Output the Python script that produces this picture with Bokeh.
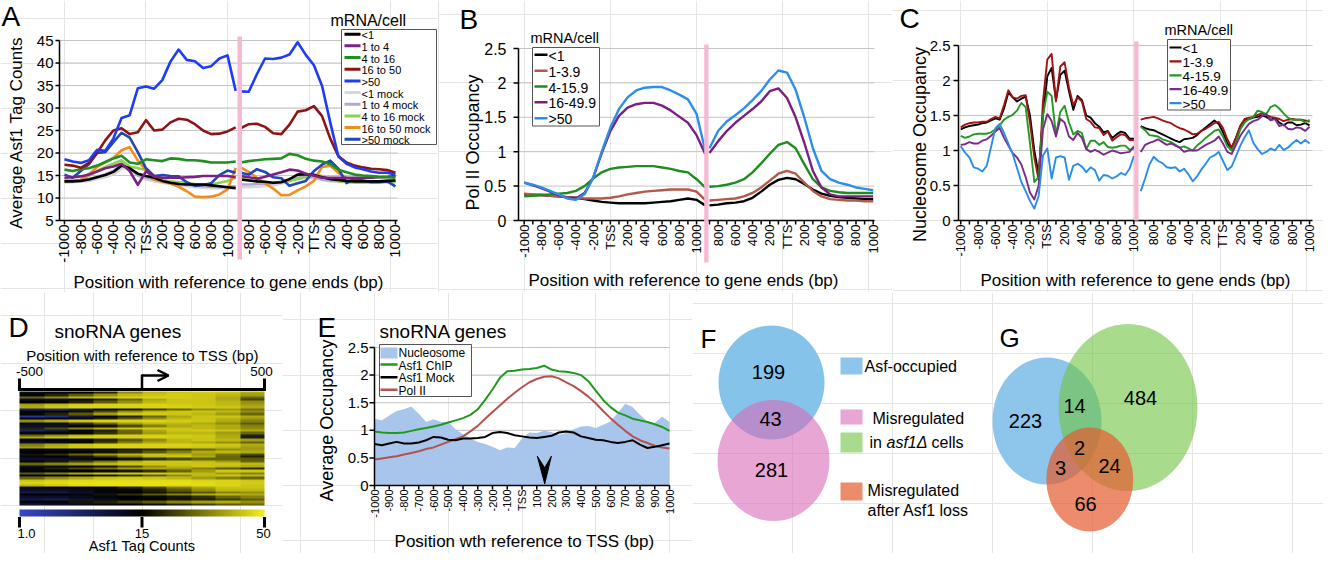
import math
import numpy as np
from bokeh.plotting import figure
from bokeh.layouts import row, column
from bokeh.models import Range1d, LinearColorMapper, Arrow, OpenHead
from bokeh.core.properties import value
from bokeh.embed import file_html
from bokeh.resources import INLINE

FONT = "Liberation Sans"
NAN = float("nan")

# ======================= DATA =======================
# ---- Panel A: Asf1 tag counts (100 bp steps) ----
POS_TSS = list(range(-1000, 1101, 100))   # relative to TSS
POS_TTS = list(range(-900, 1001, 100))    # relative to TTS
A_LT1_TSS = [13.7, 13.7, 13.8, 14.1, 14.6, 15.1, 15.8, 17.2, 16.6, 15.4, 14.9, 14.5, 13.8, 13.4, 13.1, 13.0, 13.0, 13.0, 12.8, 12.6, 12.4, 12.2]
A_LT1_TTS = [14.1, 13.9, 13.7, 13.6, 13.4, 13.5, 14.2, 15.2, 15.3, 15.1, 14.6, 14.2, 14.0, 13.8, 13.7, 13.7, 13.7, 13.7, 13.8, 13.9]
A_1TO4_TSS = [14.5, 14.6, 14.8, 15.2, 15.9, 16.6, 17.0, 17.6, 16.0, 12.9, 15.9, 14.8, 14.5, 14.5, 14.5, 14.6, 14.7, 14.9, 14.9, 14.9, 14.9, 14.6]
A_1TO4_TTS = [14.9, 14.6, 14.3, 14.7, 15.2, 15.7, 16.3, 16.1, 15.4, 15.0, 14.5, 14.5, 14.5, 14.5, 14.5, 14.5, 14.5, 14.6, 14.7, 14.9]
A_4TO16_TSS = [16.3, 16.0, 16.4, 16.6, 17.2, 18.0, 18.8, 19.4, 17.9, 17.6, 18.6, 18.4, 18.2, 18.8, 18.7, 18.4, 18.4, 18.2, 17.9, 17.9, 17.9, 18.1]
A_4TO16_TTS = [17.9, 18.2, 18.4, 18.6, 18.7, 18.8, 19.8, 19.5, 18.7, 18.3, 18.1, 17.5, 16.3, 15.7, 15.2, 15.0, 14.9, 14.7, 14.6, 14.5]
A_16TO50_TSS = [17.4, 17.2, 16.7, 17.8, 20.0, 22.8, 25.0, 25.5, 24.2, 24.6, 27.3, 25.0, 25.2, 26.8, 27.6, 27.4, 26.4, 25.0, 24.2, 24.3, 24.8, 25.7]
A_16TO50_TTS = [25.5, 26.4, 26.5, 25.8, 24.4, 24.2, 26.3, 29.2, 29.5, 30.4, 28.2, 23.2, 19.3, 17.9, 17.2, 16.8, 16.5, 16.4, 16.2, 15.6]
A_GT50_TSS = [18.6, 18.1, 17.8, 18.4, 20.7, 20.5, 23.2, 27.8, 28.4, 34.4, 34.8, 34.3, 36.2, 40.3, 43.0, 40.7, 40.4, 38.9, 39.3, 41.0, 41.7, 33.8]
A_GT50_TTS = [33.7, 33.6, 37.5, 41.0, 40.9, 41.2, 41.9, 44.6, 41.8, 39.5, 34.9, 26.8, 19.2, 17.6, 16.8, 16.4, 15.9, 15.6, 15.6, 15.2]
A_LT1M_TSS = [13.4, 13.5, 13.6, 13.8, 14.2, 14.6, 15.2, 16.5, 16.8, 15.0, 14.1, 13.7, 13.4, 13.1, 12.8, 12.6, 12.4, 12.3, 12.2, 12.2, 12.2, 12.2]
A_LT1M_TTS = [12.4, 12.4, 12.5, 12.6, 12.8, 13.2, 13.7, 14.1, 14.5, 14.4, 14.0, 13.7, 13.6, 13.5, 13.5, 13.4, 13.4, 13.4, 13.4, 13.4]
A_1TO4M_TSS = [13.7, 13.8, 14.0, 14.2, 14.7, 15.3, 16.0, 17.4, 16.6, 15.0, 14.5, 14.1, 13.7, 13.5, 13.2, 13.0, 12.8, 12.6, 12.5, 12.4, 12.5, 12.6]
A_1TO4M_TTS = [13.0, 13.0, 13.1, 13.1, 13.3, 13.6, 14.1, 14.5, 14.9, 14.6, 14.1, 13.9, 13.8, 13.7, 13.7, 13.7, 13.7, 13.7, 13.7, 13.7]
A_4TO16M_TSS = [13.7, 13.8, 14.0, 14.9, 16.0, 16.9, 17.6, 18.4, 17.0, 16.6, 16.2, 14.9, 14.0, 13.7, 13.5, 13.3, 13.1, 13.0, 13.0, 13.4, 13.8, 14.5]
A_4TO16M_TTS = [14.5, 14.0, 13.7, 13.5, 13.4, 13.6, 13.8, 14.2, 14.7, 15.2, 14.9, 14.2, 13.7, 13.6, 13.4, 13.4, 13.5, 13.6, 13.7, 13.7]
A_16TO50M_TSS = [13.9, 13.8, 14.0, 15.3, 16.9, 17.9, 18.9, 20.6, 21.3, 18.3, 16.2, 14.1, 13.6, 13.2, 12.5, 11.5, 10.3, 10.2, 10.3, 10.8, 11.9, 16.7]
A_16TO50M_TTS = [16.8, 15.8, 14.5, 13.3, 12.1, 10.6, 10.7, 11.7, 12.6, 13.8, 16.9, 17.2, 15.6, 14.4, 14.2, 13.9, 13.7, 13.7, 13.8, 13.9]
A_GT50M_TSS = [15.2, 14.5, 16.0, 17.5, 20.0, 20.2, 22.4, 24.5, 23.4, 20.2, 16.6, 14.9, 15.1, 14.9, 14.8, 13.5, 12.7, 12.9, 13.3, 15.1, 16.1, 15.6]
A_GT50M_TTS = [15.6, 15.2, 16.4, 15.8, 14.6, 14.4, 12.7, 13.3, 13.8, 16.0, 17.4, 18.3, 16.5, 13.3, 14.3, 13.9, 13.5, 13.5, 13.7, 12.6]
A_LABELS = ["<1", "1 to 4", "4 to 16", "16 to 50", ">50",
            "<1 mock", "1 to 4 mock", "4 to 16 mock", "16 to 50 mock", ">50 mock"]
A_Y_TICKS = [5, 10, 15, 20, 25, 30, 35, 40, 45]
A_Y_TICK_LABELS = ["5", "10", "15", "20", "25", "30", "35", "40", "45"]

# ---- Panel B: Pol II occupancy (100 bp steps) ----
B_LT1_TSS = [0.38, 0.37, 0.37, 0.36, 0.35, 0.34, 0.33, 0.31, 0.29, 0.27, 0.26, 0.25, 0.25, 0.25, 0.25, 0.26, 0.27, 0.28, 0.30, 0.32, 0.30, 0.22]
B_LT1_TTS = [0.22, 0.23, 0.25, 0.26, 0.28, 0.33, 0.42, 0.52, 0.59, 0.62, 0.60, 0.53, 0.45, 0.39, 0.36, 0.34, 0.33, 0.32, 0.31, 0.31]
B_1TO4_TSS = [0.39, 0.38, 0.37, 0.36, 0.35, 0.34, 0.33, 0.32, 0.32, 0.32, 0.33, 0.35, 0.38, 0.40, 0.42, 0.43, 0.44, 0.45, 0.45, 0.45, 0.42, 0.30]
B_1TO4_TTS = [0.29, 0.30, 0.31, 0.32, 0.35, 0.40, 0.48, 0.58, 0.68, 0.72, 0.68, 0.55, 0.43, 0.35, 0.31, 0.30, 0.29, 0.29, 0.28, 0.28]
B_4TO16_TSS = [0.35, 0.36, 0.37, 0.38, 0.39, 0.40, 0.43, 0.50, 0.61, 0.70, 0.75, 0.77, 0.78, 0.79, 0.79, 0.79, 0.77, 0.75, 0.72, 0.70, 0.60, 0.48]
B_4TO16_TTS = [0.49, 0.50, 0.52, 0.55, 0.60, 0.70, 0.83, 0.97, 1.10, 1.14, 1.05, 0.82, 0.60, 0.48, 0.43, 0.41, 0.40, 0.40, 0.40, 0.40]
B_16TO50_TSS = [0.55, 0.51, 0.47, 0.42, 0.37, 0.33, 0.32, 0.40, 0.62, 0.98, 1.30, 1.52, 1.64, 1.69, 1.71, 1.71, 1.67, 1.60, 1.51, 1.42, 1.24, 0.97]
B_16TO50_TTS = [0.98, 1.15, 1.30, 1.42, 1.52, 1.62, 1.73, 1.88, 1.92, 1.78, 1.50, 1.13, 0.72, 0.48, 0.38, 0.35, 0.35, 0.35, 0.35, 0.35]
B_GT50_TSS = [0.55, 0.52, 0.48, 0.43, 0.38, 0.32, 0.30, 0.38, 0.62, 1.00, 1.35, 1.62, 1.79, 1.89, 1.93, 1.94, 1.94, 1.89, 1.83, 1.76, 1.55, 1.02]
B_GT50_TTS = [1.05, 1.30, 1.44, 1.53, 1.63, 1.75, 1.88, 2.05, 2.18, 2.15, 1.90, 1.50, 1.05, 0.72, 0.60, 0.55, 0.52, 0.48, 0.46, 0.44]
BC_LABELS = ["<1", "1-3.9", "4-15.9", "16-49.9", ">50"]
OCC_Y_TICKS = [0, 0.5, 1, 1.5, 2, 2.5]
OCC_Y_TICK_LABELS = ["0", "0.5", "1", "1.5", "2", "2.5"]

# ---- Panel C: nucleosome occupancy (50 bp steps) ----
C_POS_TSS = list(range(-1000, 1001, 50))
C_POS_TTS = list(range(-950, 1001, 50))
C_LT1_TSS = [1.30, 1.33, 1.35, 1.36, 1.37, 1.39, 1.40, 1.43, 1.46, 1.44, 1.60, 1.83, 1.76, 1.70, 1.74, 1.77, 1.50, 1.00, 0.66, 1.50, 2.06, 2.18, 1.72, 2.08, 2.14, 1.85, 1.58, 1.78, 1.72, 1.50, 1.47, 1.39, 1.34, 1.26, 1.28, 1.18, 1.23, 1.27, 1.25, 1.17, 1.17]
C_LT1_TTS = [1.35, 1.32, 1.30, 1.29, 1.26, 1.23, 1.20, 1.17, 1.14, 1.12, 1.16, 1.17, 1.18, 1.22, 1.28, 1.33, 1.38, 1.43, 1.38, 1.26, 1.10, 1.04, 1.18, 1.35, 1.44, 1.45, 1.47, 1.48, 1.50, 1.48, 1.44, 1.46, 1.40, 1.36, 1.40, 1.40, 1.36, 1.37, 1.39, 1.36]
C_1TO4_TSS = [1.33, 1.37, 1.39, 1.40, 1.40, 1.41, 1.41, 1.45, 1.48, 1.46, 1.65, 1.86, 1.76, 1.74, 1.78, 1.79, 1.40, 0.90, 0.58, 1.70, 2.30, 2.38, 1.70, 2.20, 2.26, 1.90, 1.65, 1.76, 1.70, 1.45, 1.41, 1.33, 1.32, 1.22, 1.27, 1.14, 1.19, 1.23, 1.22, 1.15, 1.15]
C_1TO4_TTS = [1.44, 1.46, 1.47, 1.48, 1.46, 1.43, 1.41, 1.39, 1.35, 1.32, 1.30, 1.27, 1.23, 1.24, 1.28, 1.31, 1.35, 1.39, 1.41, 1.32, 1.16, 1.04, 1.18, 1.35, 1.45, 1.47, 1.48, 1.51, 1.53, 1.51, 1.48, 1.47, 1.45, 1.42, 1.44, 1.45, 1.44, 1.44, 1.43, 1.41]
C_4TO16_TSS = [1.21, 1.18, 1.20, 1.23, 1.24, 1.24, 1.24, 1.26, 1.30, 1.36, 1.44, 1.48, 1.51, 1.57, 1.68, 1.62, 1.10, 0.55, 0.62, 1.50, 1.84, 1.78, 1.22, 1.55, 1.64, 1.40, 1.23, 1.28, 1.25, 1.02, 1.14, 1.14, 1.08, 1.12, 1.05, 1.04, 1.05, 1.07, 1.07, 1.01, 1.03]
C_4TO16_TTS = [1.34, 1.29, 1.22, 1.21, 1.20, 1.16, 1.14, 1.12, 1.08, 1.04, 1.06, 1.03, 1.00, 1.07, 1.12, 1.18, 1.23, 1.28, 1.30, 1.20, 1.06, 1.00, 1.12, 1.30, 1.40, 1.45, 1.48, 1.57, 1.55, 1.52, 1.62, 1.65, 1.60, 1.53, 1.47, 1.44, 1.44, 1.44, 1.40, 1.44]
C_16TO50_TSS = [1.08, 1.09, 1.12, 1.10, 1.10, 1.14, 1.16, 1.21, 1.27, 1.32, 1.18, 1.07, 0.96, 0.90, 0.80, 0.62, 0.40, 0.30, 0.50, 1.30, 1.52, 1.42, 1.20, 1.45, 1.40, 1.20, 1.15, 1.25, 1.18, 1.02, 0.98, 1.01, 0.98, 0.94, 0.97, 1.00, 0.98, 0.96, 0.97, 0.98, 1.06]
C_16TO50_TTS = [0.98, 1.08, 1.11, 1.13, 1.16, 1.12, 1.08, 1.10, 1.07, 1.04, 0.98, 1.00, 1.00, 1.00, 1.04, 1.08, 1.11, 1.14, 1.20, 1.10, 0.98, 0.95, 1.08, 1.21, 1.30, 1.38, 1.42, 1.44, 1.49, 1.52, 1.43, 1.45, 1.35, 1.37, 1.31, 1.30, 1.33, 1.32, 1.28, 1.34]
C_GT50_TSS = [1.06, 0.97, 0.90, 0.76, 0.74, 0.70, 0.78, 1.05, 1.32, 1.38, 1.25, 1.10, 0.95, 0.75, 0.55, 0.42, 0.28, 0.17, 0.35, 0.93, 1.03, 0.60, 0.90, 0.92, 0.90, 0.58, 0.78, 0.81, 0.77, 0.69, 0.76, 0.72, 0.57, 0.65, 0.64, 0.60, 0.63, 0.68, 0.65, 0.74, 0.92]
C_GT50_TTS = [0.42, 0.60, 0.80, 0.91, 0.85, 0.82, 0.76, 0.75, 0.76, 0.70, 0.74, 0.66, 0.56, 0.63, 0.73, 0.81, 0.90, 0.93, 0.98, 0.85, 0.72, 0.77, 0.92, 1.07, 1.19, 1.29, 1.11, 1.02, 0.95, 0.98, 1.03, 1.00, 1.08, 1.01, 1.04, 1.10, 1.15, 1.10, 1.15, 1.10]

# ---- Tick labels for the gene-end axes ----
TSS_TICKS = list(range(-1000, 1001, 200))
TSS_TICK_LABELS = ["-1000", "-800", "-600", "-400", "-200", "TSS", "200", "400", "600", "800", "1000"]
TTS_TICKS = list(range(-800, 1001, 200))
A_TTS_TICK_LABELS = ["-800", "-600", "-400", "-200", "TTS", "200", "400", "600", "800", "1000"]
BC_TTS_TICK_LABELS = ["800", "600", "400", "200", "TTS", "200", "400", "600", "800", "1000"]
MINOR_TICKS = list(range(-900, 1000, 200))
E_TICKS = list(range(-1000, 1001, 100))
E_TICK_LABELS = ["-1000", "-900", "-800", "-700", "-600", "-500", "-400", "-300", "-200", "-100", "TSS",
                 "100", "200", "300", "400", "500", "600", "700", "800", "900", "1000"]

# ---- Panel D: Asf1 tag counts at snoRNA genes (rows top->bottom, -500..500 bp, 100 bp bins) ----
D_HEAT = [
    [13, 14, 15, 20, 35, 42, 44, 45, 44, 40],
    [16, 20, 28, 36, 42, 44, 45, 44, 42, 38],
    [30, 36, 42, 45, 46, 46, 45, 44, 40, 30],
    [12, 12, 14, 20, 30, 40, 44, 44, 40, 25],
    [15, 16, 20, 28, 36, 42, 44, 44, 42, 36],
    [38, 42, 45, 46, 46, 46, 45, 44, 42, 38],
    [40, 44, 46, 46, 46, 46, 46, 45, 44, 40],
    [8, 6, 10, 14, 18, 24, 30, 36, 38, 32],
    [14, 15, 18, 26, 36, 42, 44, 44, 42, 36],
    [16, 20, 28, 38, 44, 45, 44, 42, 38, 30],
    [5, 6, 10, 14, 20, 30, 40, 44, 44, 40],
    [14, 14, 16, 20, 28, 36, 42, 44, 42, 38],
    [36, 40, 44, 46, 46, 46, 45, 44, 40, 34],
    [14, 16, 22, 30, 38, 42, 42, 40, 36, 28],
    [12, 12, 14, 18, 26, 34, 40, 42, 40, 34],
    [20, 26, 34, 40, 44, 45, 44, 42, 40, 36],
    [8, 10, 14, 20, 30, 40, 44, 45, 44, 40],
    [14, 14, 16, 22, 30, 38, 42, 42, 38, 30],
    [30, 36, 42, 45, 46, 46, 45, 44, 40, 20],
    [40, 44, 46, 46, 46, 46, 45, 44, 40, 10],
    [14, 15, 16, 20, 28, 36, 42, 44, 42, 38],
    [12, 13, 16, 24, 34, 40, 42, 40, 36, 30],
    [34, 40, 44, 46, 46, 46, 46, 45, 44, 40],
    [38, 42, 45, 46, 46, 46, 45, 44, 42, 38],
    [14, 14, 14, 16, 18, 20, 24, 30, 36, 38],
    [15, 15, 16, 18, 22, 28, 34, 40, 42, 40],
    [18, 22, 30, 38, 42, 44, 42, 38, 32, 26],
    [14, 15, 18, 24, 34, 42, 44, 40, 30, 20],
    [12, 12, 13, 15, 18, 22, 26, 30, 30, 28],
    [16, 18, 24, 32, 40, 44, 44, 42, 38, 30],
    [30, 34, 38, 42, 44, 44, 44, 44, 44, 42],
    [12, 13, 14, 18, 26, 36, 42, 44, 42, 40],
    [16, 20, 26, 32, 38, 40, 38, 34, 28, 22],
    [14, 14, 15, 16, 18, 22, 30, 38, 44, 44],
    [28, 34, 40, 44, 45, 45, 44, 42, 38, 34],
    [14, 15, 16, 18, 22, 28, 36, 42, 44, 42],
    [30, 36, 40, 44, 45, 44, 42, 38, 34, 30],
    [44, 46, 47, 47, 47, 47, 47, 46, 46, 44],
    [46, 47, 48, 48, 48, 48, 48, 47, 46, 45],
    [42, 45, 47, 48, 48, 48, 47, 47, 46, 44],
    [13, 14, 14, 16, 20, 26, 34, 40, 44, 44],
    [12, 12, 13, 14, 16, 20, 28, 36, 42, 42],
    [10, 10, 12, 14, 15, 18, 22, 28, 34, 36],
    [15, 15, 16, 18, 22, 28, 34, 40, 42, 40],
    [12, 12, 13, 14, 15, 16, 18, 22, 30, 34],
    [10, 9, 11, 13, 14, 16, 18, 20, 24, 28],
    [14, 16, 18, 20, 24, 28, 34, 38, 40, 36],
    [11, 12, 13, 14, 15, 17, 20, 24, 28, 30],
]
D_SCALE_STOPS = [1.0, 15.0, 50.0]
D_SCALE_LABELS = ["1.0", "15", "50"]
D_POS_LABELS = ["-500", "500"]

# ---- Panel E: snoRNA genes average occupancy (50 bp steps) ----
E_POS = list(range(-1000, 1001, 50))
E_NUC = [1.21, 1.18, 1.27, 1.35, 1.38, 1.43, 1.30, 1.15, 1.20, 1.15, 1.15, 1.02, 0.93, 0.85, 0.79, 0.75, 0.70, 0.64, 0.69, 0.68, 0.85, 0.96, 0.95, 0.99, 0.97, 0.92, 0.95, 1.02, 1.07, 1.08, 1.04, 1.10, 1.16, 1.32, 1.48, 1.42, 1.28, 1.16, 1.13, 1.25, 1.15]
E_CHIP = [0.98, 0.96, 0.95, 0.95, 0.96, 0.99, 1.02, 1.04, 1.07, 1.10, 1.14, 1.18, 1.22, 1.28, 1.38, 1.55, 1.74, 1.95, 2.07, 2.08, 2.10, 2.11, 2.13, 2.17, 2.10, 2.07, 2.06, 2.04, 2.00, 1.89, 1.72, 1.55, 1.42, 1.32, 1.27, 1.21, 1.18, 1.15, 1.11, 1.06, 0.99]
E_MOCK = [0.75, 0.73, 0.76, 0.79, 0.76, 0.76, 0.78, 0.82, 0.88, 0.87, 0.83, 0.82, 0.85, 0.85, 0.86, 0.88, 0.95, 0.97, 0.95, 0.91, 0.89, 0.87, 0.86, 0.88, 0.90, 0.96, 0.98, 0.96, 0.89, 0.86, 0.83, 0.82, 0.79, 0.77, 0.79, 0.82, 0.74, 0.68, 0.70, 0.73, 0.76]
E_POL2 = [0.47, 0.49, 0.51, 0.53, 0.56, 0.59, 0.62, 0.66, 0.69, 0.74, 0.79, 0.84, 0.89, 0.98, 1.08, 1.21, 1.33, 1.45, 1.57, 1.68, 1.78, 1.87, 1.93, 1.97, 1.98, 1.94, 1.87, 1.80, 1.71, 1.61, 1.49, 1.35, 1.22, 1.10, 0.99, 0.89, 0.82, 0.77, 0.72, 0.69, 0.67]
E_LABELS = ["Nucleosome", "Asf1 ChIP", "Asf1 Mock", "Pol II"]
E_ARROW_X = [104, 154, 199, 154]
E_ARROW_Y = [0.53, 0.32, 0.53, 0.03]

# ---- Panels F, G: Venn counts ----
F_COUNTS = [199, 43, 281]
G_COUNTS = [223, 14, 484, 2, 3, 24, 66]
FG_LEGEND = ["Asf-occupied", "Misregulated", "in", "asf1Δ", "cells", "Misregulated", "after Asf1 loss"]

# ======================= HELPERS =======================
GRID = "#c4c4c4"
PINK = "#f6b8d2"


class Panel:
    """A figure whose frame is the whole canvas; data rectangle placed at given pixels."""

    def __init__(self, canvas, data_px, xr, yr):
        cx0, cy0, cx1, cy1 = canvas
        dx0, dy0, dx1, dy1 = data_px
        self.x0, self.x1 = xr
        self.y0, self.y1 = yr
        self.dx0, self.dy1 = dx0, dy1
        self.sx = (xr[1] - xr[0]) / (dx1 - dx0)
        self.sy = (yr[1] - yr[0]) / (dy1 - dy0)
        self.p = figure(width=cx1 - cx0, height=cy1 - cy0,
                        x_range=Range1d(self.X(cx0), self.X(cx1)),
                        y_range=Range1d(self.Y(cy1), self.Y(cy0)),
                        title=None, toolbar_location=None, output_backend="svg",
                        min_border=0, x_axis_location=None, y_axis_location=None)
        self.p.outline_line_color = None
        self.p.background_fill_color = "white"
        self.p.border_fill_color = "white"

    def X(self, rx):
        return self.x0 + (rx - self.dx0) * self.sx

    def Y(self, ry):
        return self.y0 + (self.dy1 - ry) * self.sy


def texts(p, xs, ys, strs, size, align="left", baseline="middle", angle=0.0, style="normal"):
    p.text(x=list(xs), y=list(ys), text=list(strs), text_font=value(FONT),
           text_font_size=value(f"{size}px"), text_align=align, text_baseline=baseline,
           angle=angle, text_font_style=style, text_color="black")


def segs(p, x0, y0, x1, y1, color="black", width=1.5):
    p.segment(x0=list(x0), y0=list(y0), x1=list(x1), y1=list(y1), line_color=color,
              line_width=width, line_cap="butt")


def hgrid(P, ticks, x_end):
    n = len(ticks)
    segs(P.p, [P.x0] * n, ticks, [x_end] * n, ticks, GRID, 1)


def axes(P, xt, xl, xminor, xsize, x_end, x_lab_top, yt, yl, ysize, ytick_px, y_lab_right):
    p = P.p
    segs(p, [P.x0], [P.y0], [P.x0], [P.y1])
    n = len(yt)
    segs(p, [P.x0 - ytick_px * P.sx] * n, yt, [P.x0] * n, yt)
    texts(p, [P.X(y_lab_right)] * n, yt, yl, ysize, align="right")
    segs(p, [P.x0], [P.y0], [x_end], [P.y0])
    allt = list(xt) + list(xminor)
    m = len(allt)
    segs(p, allt, [P.y0] * m, allt, [P.y0 - 4 * P.sy] * m)
    texts(p, xt, [P.Y(x_lab_top)] * len(xt), xl, xsize, align="right", angle=math.pi / 2)


def box_legend(P, box, first_row, row_h, glyph_x, text_x, labels, colors, widths, font_px,
               area_first=False):
    p = P.p
    l, t, r, b = box
    p.quad(left=[P.X(l)], right=[P.X(r)], top=[P.Y(t)], bottom=[P.Y(b)], fill_color="white",
           line_color="#555555", line_width=1)
    rows = [first_row + i * row_h for i in range(len(labels))]
    for i, (yc, col, w) in enumerate(zip(rows, colors, widths)):
        if area_first and i == 0:
            p.quad(left=[P.X(glyph_x[0])], right=[P.X(glyph_x[1])], top=[P.Y(yc - 5.5)],
                   bottom=[P.Y(yc + 5.5)], fill_color=col, line_color=None)
        else:
            segs(p, [P.X(glyph_x[0])], [P.Y(yc - 1)], [P.X(glyph_x[1])], [P.Y(yc - 1)], col, w)
    texts(p, [P.X(text_x)] * len(labels), [P.Y(y) for y in rows], labels, font_px)


def split_xy(pos_tss, vals_tss, pos_tts, vals_tts, offset):
    xs = list(pos_tss) + [NAN] + [q + offset for q in pos_tts]
    ys = list(vals_tss) + [NAN] + list(vals_tts)
    return xs, ys


# ======================= PANEL A =======================
A_OFF = 2060
PA = Panel((8, 8, 445, 300), (67, 48, 405, 228), (-1061, 3085), (5, 45))
pA = PA.p
hgrid(PA, A_Y_TICKS, PA.X(405))
A_COLORS = ["#000000", "#7b2184", "#1f8f1f", "#8c1414", "#1f3cf5",
            "#d6d6d6", "#b3a6d6", "#8ed14b", "#f28c1c", "#2146b8"]
A_SERIES = [
    (A_LT1_TSS, A_LT1_TTS), (A_1TO4_TSS, A_1TO4_TTS), (A_4TO16_TSS, A_4TO16_TTS),
    (A_16TO50_TSS, A_16TO50_TTS), (A_GT50_TSS, A_GT50_TTS),
    (A_LT1M_TSS, A_LT1M_TTS), (A_1TO4M_TSS, A_1TO4M_TTS), (A_4TO16M_TSS, A_4TO16M_TTS),
    (A_16TO50M_TSS, A_16TO50M_TTS), (A_GT50M_TSS, A_GT50M_TTS),
]
for i in [5, 6, 7, 8, 9, 0, 1, 2, 3, 4]:
    tss, tts = A_SERIES[i]
    xs, ys = split_xy(POS_TSS, tss, POS_TTS, tts, A_OFF)
    pA.line(xs, ys, line_color=A_COLORS[i], line_width=2.6, line_join="round")
axes(PA, TSS_TICKS + [t + A_OFF for t in TTS_TICKS], TSS_TICK_LABELS + A_TTS_TICK_LABELS, [],
     15, PA.X(405), 232, A_Y_TICKS, A_Y_TICK_LABELS, 15, 4, 61)
texts(pA, [PA.X(24)], [PA.Y(140)], ["Average Asf1 Tag Counts"], 17, align="center", angle=math.pi / 2)
texts(pA, [PA.X(236)], [PA.Y(290)], ["Position with reference to gene ends (bp)"], 17, align="center")
pA.quad(left=[PA.X(245)], right=[PA.X(249.5)], bottom=[PA.Y(267)], top=[PA.Y(44)],
        fill_color=PINK, line_color=None)
box_legend(PA, (349, 37, 444, 152), 42.7, 11.67, (352, 368), 369, A_LABELS, A_COLORS,
           [3] * 10, 11)
texts(pA, [PA.X(9)], [PA.Y(24)], ["A"], 28)
texts(pA, [PA.X(338)], [PA.Y(28)], ["mRNA/cell"], 16)

# ======================= PANEL B =======================
B_OFF = 2050
PB = Panel((445, 8, 900, 300), (526, 56, 882, 228), (-1066, 3065), (0, 2.5))
pB = PB.p
hgrid(PB, OCC_Y_TICKS, PB.X(882))
B_COLORS = ["#000000", "#b4584a", "#1e8c1e", "#7a1f80", "#2b8ee8"]
B_SERIES = [(B_LT1_TSS, B_LT1_TTS), (B_1TO4_TSS, B_1TO4_TTS), (B_4TO16_TSS, B_4TO16_TTS),
            (B_16TO50_TSS, B_16TO50_TTS), (B_GT50_TSS, B_GT50_TTS)]
for (tss, tts), col in zip(B_SERIES, B_COLORS):
    xs, ys = split_xy(POS_TSS, tss, POS_TTS, tts, B_OFF)
    pB.line(xs, ys, line_color=col, line_width=2.4, line_join="round")
axes(PB, TSS_TICKS + [t + B_OFF for t in TTS_TICKS], TSS_TICK_LABELS + BC_TTS_TICK_LABELS,
     MINOR_TICKS + [t + B_OFF for t in MINOR_TICKS], 13, PB.X(882), 232,
     OCC_Y_TICKS, OCC_Y_TICK_LABELS, 16, 5, 514)
texts(pB, [PB.X(480)], [PB.Y(150)], ["Pol II Occupancy"], 18, align="center", angle=math.pi / 2)
texts(pB, [PB.X(691)], [PB.Y(288)], ["Position with reference to gene ends (bp)"], 17, align="center")
pB.quad(left=[PB.X(711.7)], right=[PB.X(716)], bottom=[PB.Y(270)], top=[PB.Y(52)],
        fill_color=PINK, line_color=None)
box_legend(PB, (540, 55, 607, 133.5), 63.3, 15.85, (542, 555), 556, BC_LABELS, B_COLORS,
           [2.5] * 5, 14)
texts(pB, [PB.X(467)], [PB.Y(27)], ["B"], 28)
texts(pB, [PB.X(538)], [PB.Y(45)], ["mRNA/cell"], 14.5)

# ======================= PANEL C =======================
C_OFF = 2030
PC = Panel((900, 8, 1331, 300), (966, 53, 1320, 228), (-1026, 3064), (0, 2.5))
pC = PC.p
hgrid(PC, OCC_Y_TICKS, PC.X(1320))
C_COLORS = ["#000000", "#a01212", "#229922", "#7b2a8c", "#2a8ee8"]
C_SERIES = [(C_LT1_TSS, C_LT1_TTS), (C_1TO4_TSS, C_1TO4_TTS), (C_4TO16_TSS, C_4TO16_TTS),
            (C_16TO50_TSS, C_16TO50_TTS), (C_GT50_TSS, C_GT50_TTS)]
for (tss, tts), col in zip(C_SERIES, C_COLORS):
    xs, ys = split_xy(C_POS_TSS, tss, C_POS_TTS, tts, C_OFF)
    pC.line(xs, ys, line_color=col, line_width=1.9, line_join="round")
axes(PC, TSS_TICKS + [t + C_OFF for t in TTS_TICKS], TSS_TICK_LABELS + BC_TTS_TICK_LABELS,
     MINOR_TICKS + [t + C_OFF for t in MINOR_TICKS], 12.5, PC.X(1320), 232,
     OCC_Y_TICKS, OCC_Y_TICK_LABELS, 15, 5, 958)
texts(pC, [PC.X(927)], [PC.Y(152)], ["Nucleosome Occupancy"], 18, align="center", angle=math.pi / 2)
texts(pC, [PC.X(1143)], [PC.Y(288)], ["Position with reference to gene ends (bp)"], 17, align="center")
pC.quad(left=[PC.X(1141.7)], right=[PC.X(1146)], bottom=[PC.Y(228)], top=[PC.Y(49)],
        fill_color=PINK, line_color=None)
box_legend(PC, (1175, 47, 1238, 117.5), 56, 13.9, (1177, 1189), 1190, BC_LABELS, C_COLORS,
           [2.2] * 5, 13.5)
texts(pC, [PC.X(907)], [PC.Y(26)], ["C"], 28)
texts(pC, [PC.X(1172)], [PC.Y(37)], ["mRNA/cell"], 14.5)

# ======================= PANEL D =======================
n_rows = len(D_HEAT)
PD = Panel((8, 300, 290, 561), (27, 399, 272, 513), (-500, 500), (0, n_rows))
pD = PD.p
blue_c = np.array([56, 72, 200.0])
black_c = np.zeros(3)
yellow_c = np.array([246, 238, 24.0])
lo, mid, hi = D_SCALE_STOPS
pal = []
for i in range(256):
    v = lo + (hi - lo) * (i + 0.5) / 256
    if v <= mid:
        f = (v - lo) / (mid - lo)
        c = blue_c * (1 - f) + black_c * f
    else:
        f = (v - mid) / (hi - mid)
        c = black_c * (1 - f) + yellow_c * f
    pal.append("#%02x%02x%02x" % tuple(int(round(x)) for x in c))
mapper = LinearColorMapper(palette=pal, low=lo, high=hi)
pD.image(image=[np.array(D_HEAT[::-1], dtype=float)], x=-500, y=0, dw=1000, dh=n_rows,
         color_mapper=mapper)
strip = np.interp(np.linspace(0, 1, 256), [0, 0.5, 1], D_SCALE_STOPS)
pD.image(image=[np.array([strip])], x=-500, y=PD.Y(524), dw=1000, dh=PD.Y(517) - PD.Y(524),
         color_mapper=mapper)
segs(pD, [-500, 0, 500], [PD.Y(524.5)] * 3, [-500, 0, 500], [PD.Y(535)] * 3, width=3)
texts(pD, [PD.X(34), 0, PD.X(271)], [PD.Y(541)] * 3, D_SCALE_LABELS, 13, align="center")
texts(pD, [0], [PD.Y(553)], ["Asf1 Tag Counts"], 14.5, align="center")
segs(pD, [-500], [PD.Y(397)], [500], [PD.Y(397)], width=3)
segs(pD, [-500, 500], [PD.Y(398.5)] * 2, [-500, 500], [PD.Y(386)] * 2, width=3)
texts(pD, [PD.X(37), PD.X(269)], [PD.Y(379)] * 2, D_POS_LABELS, 13.5, align="center")
texts(pD, [PD.X(150)], [PD.Y(363)], ["Position with reference to TSS (bp)"], 15, align="center")
segs(pD, [0], [PD.Y(397)], [0], [PD.Y(382)], width=2.5)
pD.add_layout(Arrow(end=OpenHead(size=11, line_width=2.5, line_color="black"),
                    x_start=0, y_start=PD.Y(383), x_end=PD.X(176), y_end=PD.Y(383),
                    line_width=2.5, line_color="black"))
texts(pD, [PD.X(16)], [PD.Y(335)], ["D"], 28)
texts(pD, [PD.X(62)], [PD.Y(339)], ["snoRNA genes"], 19)

# ======================= PANEL E =======================
PE = Panel((290, 300, 700, 561), (382, 355, 677, 493), (-1000, 1000), (0, 2.5))
pE = PE.p
hgrid(PE, OCC_Y_TICKS, PE.X(677))
E_COLORS = ["#a8c6ec", "#1f9a1f", "#000000", "#b5524f"]
pE.varea(x=E_POS, y1=[0] * len(E_POS), y2=E_NUC, fill_color=E_COLORS[0])
pE.line(E_POS, E_POL2, line_color=E_COLORS[3], line_width=2)
pE.line(E_POS, E_MOCK, line_color=E_COLORS[2], line_width=2)
pE.line(E_POS, E_CHIP, line_color=E_COLORS[1], line_width=2)
pE.patch(E_ARROW_X, E_ARROW_Y, fill_color="black", line_color="black")
axes(PE, E_TICKS, E_TICK_LABELS, [], 11, PE.X(677), 497, OCC_Y_TICKS, OCC_Y_TICK_LABELS, 15, 5, 376)
texts(pE, [PE.X(334)], [PE.Y(428)], ["Average Occupancy"], 18, align="center", angle=math.pi / 2)
texts(pE, [PE.X(532)], [PE.Y(549)], ["Position wth reference to TSS (bp)"], 17, align="center")
box_legend(PE, (387, 352, 479, 404), 360.5, 12.6, (388, 405), 406, E_LABELS, E_COLORS,
           [2.5] * 4, 12, area_first=True)
texts(pE, [PE.X(325)], [PE.Y(335)], ["E"], 28)
texts(pE, [PE.X(387)], [PE.Y(339)], ["snoRNA genes"], 19)

# ======================= PANELS F, G =======================
PF = Panel((700, 300, 1331, 561), (700, 300, 1331, 561), (700, 1331), (0, 261))
pF = PF.p
X, Y = PF.X, PF.Y
pF.ellipse(x=[X(779)], y=[Y(390)], width=[106], height=[114], fill_color="#86c3ea", line_color=None)
pF.ellipse(x=[X(781)], y=[Y(468)], width=[112], height=[121], fill_color="#d96bb7", fill_alpha=0.6,
           line_color=None)
texts(pF, [X(776), X(778), X(779)], [Y(379), Y(426), Y(477)], [str(c) for c in F_COUNTS], 20,
      align="center")
pF.quad(left=[X(848)] * 4, right=[X(870)] * 4, top=[Y(365), Y(417), Y(440), Y(490)],
        bottom=[Y(382), Y(432), Y(460), Y(508)],
        fill_color=["#8ec5eb", "#e8a6d4", "#a8dc8c", "#ec8c6c"], line_color=None)
texts(pF, [X(872), X(880), X(877)], [Y(374), Y(426), Y(450)], FG_LEGEND[0:3], 16)
texts(pF, [X(894)], [Y(450)], [FG_LEGEND[3]], 16, style="italic")
texts(pF, [X(939), X(875), X(875)], [Y(450), Y(498), Y(518)], FG_LEGEND[4:7], 16)
pF.ellipse(x=[X(1054.5)], y=[Y(428.5)], width=[109], height=[127], fill_color="#8ec5eb",
           line_color=None)
pF.ellipse(x=[X(1135.5)], y=[Y(415)], width=[139], height=[167], fill_color="#6ec53f",
           fill_alpha=0.6, line_color=None)
pF.ellipse(x=[X(1097.3)], y=[Y(487)], width=[87], height=[104], fill_color="#e45b2d",
           fill_alpha=0.7, line_color=None)
texts(pF, [X(1033), X(1082), X(1148), X(1087), X(1068), X(1117), X(1093)],
      [Y(428), Y(413), Y(405), Y(455), Y(475), Y(473), Y(511)], [str(c) for c in G_COUNTS], 20,
      align="center")
texts(pF, [X(708), X(1007)], [Y(346), Y(345)], ["F", "G"], 26)

layout = column(row(pA, pB, pC), row(pD, pE, pF))
open("out.html", "w").write(file_html(layout, INLINE, "Asf1 figure"))
